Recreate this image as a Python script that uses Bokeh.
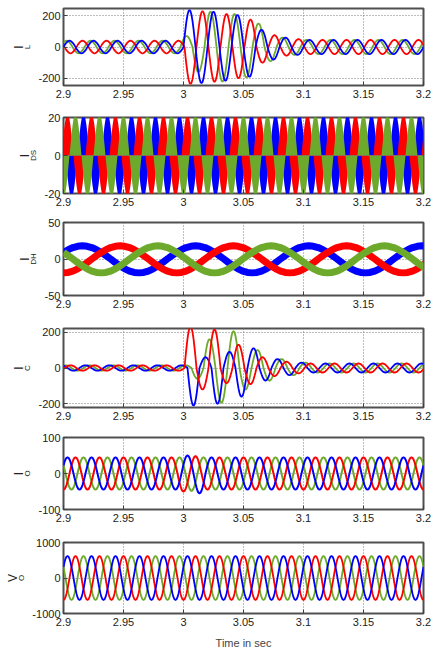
import numpy as np
from bokeh.plotting import figure
from bokeh.layouts import column
from bokeh.models import FixedTicker, Title, Range1d
from bokeh.embed import file_html
from bokeh.resources import INLINE

# ---------------- data ----------------
T0, T1 = 2.9, 3.2
x_ticks = [2.9, 2.95, 3.0, 3.05, 3.1, 3.15, 3.2]
x_tick_labels = ["2.9", "2.95", "3", "3.05", "3.1", "3.15", "3.2"]

# one cycle of the waveform shape, 24 samples per cycle
cycle_shape = [0.0, 0.26, 0.5, 0.71, 0.87, 0.97, 1.0, 0.97, 0.87, 0.71, 0.5, 0.26,
               0.0, -0.26, -0.5, -0.71, -0.87, -0.97, -1.0, -0.97, -0.87, -0.71, -0.5, -0.26]

f_grid = 50.0      # Hz
f_dh = 10.6        # Hz (I_DH panel)

# peak value of every half cycle
iL_blue = [40, 40, 40, 40, 40, 40, 40, 40, 40, 40, 235, 230, 225, 215, 205, 190, 110, 80, 60, 50,
           45, 45, 45, 45, 45, 45, 45, 45, 45, 45, 45, 45, 45]
iL_red = [40, 40, 40, 40, 40, 40, 40, 40, 40, 40, 40, 235, 228, 222, 210, 200, 175, 100, 75, 55,
          50, 45, 45, 45, 45, 45, 45, 45, 45, 45, 45, 45, 45]
iL_green = [40, 40, 40, 40, 40, 40, 40, 40, 40, 40, 70, 160, 225, 220, 210, 195, 150, 90, 60, 50,
            45, 45, 45, 45, 45, 45, 45, 45, 45, 45, 45, 45, 45]

iDS_blue = [22, 22, 22, 22, 22, 22, 22, 22, 22, 22, 22, 22, 22, 22, 22, 22, 22, 22, 22, 22,
            22, 22, 22, 22, 22, 22, 22, 22, 22, 22, 22, 22, 22]
iDS_red = [22, 22, 22, 22, 22, 22, 22, 22, 22, 22, 22, 22, 22, 22, 22, 22, 22, 22, 22, 22,
           22, 22, 22, 22, 22, 22, 22, 22, 22, 22, 22, 22, 22]
iDS_green = [22, 22, 22, 22, 22, 22, 22, 22, 22, 22, 22, 22, 22, 22, 22, 22, 22, 22, 22, 22,
             22, 22, 22, 22, 22, 22, 22, 22, 22, 22, 22, 22, 22]

iDH_blue = [18, 19, 18, 19, 18, 19, 18, 19, 18, 19]
iDH_red = [18, 19, 18, 19, 18, 19, 18, 19, 18, 19]
iDH_green = [18, 19, 18, 19, 18, 19, 18, 19, 18, 19]

iC_blue = [15, 15, 15, 15, 15, 15, 15, 15, 15, 15, 15, 210, 60, 200, 90, 160, 110, 70, 50, 40,
           30, 25, 25, 25, 25, 25, 25, 25, 25, 25, 25, 25, 25]
iC_red = [15, 15, 15, 15, 15, 15, 15, 15, 15, 15, 15, 15, 230, 120, 215, 85, 130, 90, 60, 45,
          35, 30, 25, 25, 25, 25, 25, 25, 25, 25, 25, 25, 25]
iC_green = [15, 15, 15, 15, 15, 15, 15, 15, 15, 15, 15, 60, 160, 194, 205, 120, 100, 70, 50, 40,
            30, 25, 25, 25, 25, 25, 25, 25, 25, 25, 25, 25, 25]

iO_blue = [45, 45, 45, 45, 45, 45, 45, 45, 45, 45, 50, 55, 45, 45, 45, 45, 45, 45, 45, 45,
           45, 45, 45, 45, 45, 45, 45, 45, 45, 45, 45, 45, 45]
iO_red = [45, 45, 45, 45, 45, 45, 45, 45, 45, 45, 45, 50, 48, 45, 45, 45, 45, 45, 45, 45,
          45, 45, 45, 45, 45, 45, 45, 45, 45, 45, 45, 45, 45]
iO_green = [45, 45, 45, 45, 45, 45, 45, 45, 45, 45, 45, 48, 45, 45, 45, 45, 45, 45, 45, 45,
            45, 45, 45, 45, 45, 45, 45, 45, 45, 45, 45, 45, 45]

vO_blue = [620, 620, 620, 620, 620, 620, 620, 620, 620, 620, 620, 620, 620, 620, 620, 620, 620,
           620, 620, 620, 620, 620, 620, 620, 620, 620, 620, 620, 620, 620, 620, 620, 620]
vO_red = [620, 620, 620, 620, 620, 620, 620, 620, 620, 620, 620, 620, 620, 620, 620, 620, 620,
          620, 620, 620, 620, 620, 620, 620, 620, 620, 620, 620, 620, 620, 620, 620, 620]
vO_green = [620, 620, 620, 620, 620, 620, 620, 620, 620, 620, 620, 620, 620, 620, 620, 620, 620,
            620, 620, 620, 620, 620, 620, 620, 620, 620, 620, 620, 620, 620, 620, 620, 620]

# phase of each trace (in 1/24 of a cycle)
iL_phase = {"blue": 0, "red": 11, "green": 3}
iDS_phase = {"blue": 10, "red": 2, "green": 18}
iDH_phase = {"blue": 2, "red": 18, "green": 10}
iC_phase = {"blue": 8, "red": 23, "green": 4}
iO_phase = {"blue": 2, "red": 18, "green": 10}
vO_phase = {"blue": 2, "red": 18, "green": 10}

COLORS = {"blue": "#0000FF", "red": "#FF0000", "green": "#6DAA2C"}
FONT = "Liberation Sans"


def wave(amps, off, f):
    dt = 1.0 / (24 * f)
    n = int(np.ceil((T1 - T0) / dt - 1e-9)) + 1
    k = np.arange(n)
    idx = k + off
    a = np.array(amps, dtype=float)[np.minimum(idx // 12, len(amps) - 1)]
    s = np.array(cycle_shape)[idx % 24]
    return T0 + k * dt, a * s


def make_fig(frame_h, top, bottom, yr, yticks):
    p = figure(frame_width=360, frame_height=frame_h, min_border_left=63, min_border_right=8,
               min_border_top=top, min_border_bottom=bottom,
               x_range=Range1d(T0, T1), y_range=Range1d(*yr),
               output_backend="svg", toolbar_location=None)
    p.background_fill_color = "white"
    p.border_fill_color = "white"
    p.outline_line_color = "#505050"
    p.outline_line_width = 2
    for ax in (p.xaxis[0], p.yaxis[0]):
        ax.axis_line_color = None
        ax.major_tick_in = 4
        ax.major_tick_out = 0
        ax.major_tick_line_color = "#404040"
        ax.minor_tick_line_color = None
        ax.major_label_text_font = FONT
        ax.major_label_text_font_size = "11px"
        ax.major_label_text_color = "#222222"
        ax.major_label_standoff = 4
    p.xaxis.ticker = FixedTicker(ticks=x_ticks)
    p.xaxis.major_label_overrides = dict(zip(x_ticks, x_tick_labels))
    p.yaxis.ticker = FixedTicker(ticks=yticks)
    p.yaxis.major_label_overrides = {t: str(t) for t in yticks}
    p.yaxis.major_label_standoff = 3
    for g in (p.xgrid[0], p.ygrid[0]):
        g.grid_line_color = "#7a7a7a"
        g.grid_line_dash = "1 2"
        g.grid_line_width = 1
    return p


def add_ylabel(p, main, sub):
    mw = 8 if main == "V" else 4
    sw = 5.5 * len(sub)
    p.add_layout(Title(text=sub, align="center", offset=mw / 2 + 7, standoff=8,
                       text_font=FONT, text_font_size="8px", text_font_style="normal",
                       text_color="#222222"), "left")
    p.add_layout(Title(text=main, align="center", offset=-sw / 2 - 1, standoff=-19,
                       text_font=FONT, text_font_size="12px", text_font_style="normal",
                       text_color="#222222"), "left")


def draw_lines(p, amps, phase, f, order, width):
    for c in order:
        t, v = wave(amps[c], phase[c], f)
        p.line(t, v, line_color=COLORS[c], line_width=width)


figs = []

# Panel 1: I_L
p1 = make_fig(77, 8, 26, (-245, 245), [-200, 0, 200])
draw_lines(p1, {"blue": iL_blue, "red": iL_red, "green": iL_green}, iL_phase, f_grid,
           ["green", "red", "blue"], 1.8)
add_ylabel(p1, "I", "L")
figs.append(p1)

# Panel 2: I_DS
p2 = make_fig(76, 6, 24, (-20, 20), [-20, 0, 20])
for c, amps in (("blue", iDS_blue), ("red", iDS_red), ("green", iDS_green)):
    t, v = wave(amps, iDS_phase[c], f_grid)
    p2.varea(x=t, y1=np.zeros_like(v), y2=v, fill_color=COLORS[c])
add_ylabel(p2, "I", "DS")
figs.append(p2)

# Panel 3: I_DH
p3 = make_fig(73, 5, 27, (-50, 50), [-50, 0, 50])
draw_lines(p3, {"blue": iDH_blue, "red": iDH_red, "green": iDH_green}, iDH_phase, f_dh,
           ["blue", "red", "green"], 7)
add_ylabel(p3, "I", "DH")
figs.append(p3)

# Panel 4: I_C
p4 = make_fig(79, 6, 24, (-220, 220), [-200, 0, 200])
draw_lines(p4, {"blue": iC_blue, "red": iC_red, "green": iC_green}, iC_phase, f_grid,
           ["green", "blue", "red"], 1.8)
add_ylabel(p4, "I", "C")
figs.append(p4)

# Panel 5: I_O
p5 = make_fig(72, 6, 27, (-100, 100), [-100, 0, 100])
draw_lines(p5, {"blue": iO_blue, "red": iO_red, "green": iO_green}, iO_phase, f_grid,
           ["green", "red", "blue"], 2)
add_ylabel(p5, "I", "O")
figs.append(p5)

# Panel 6: V_O
p6 = make_fig(71, 6, 44, (-1000, 1000), [-1000, 0, 1000])
draw_lines(p6, {"blue": vO_blue, "red": vO_red, "green": vO_green}, vO_phase, f_grid,
           ["green", "red", "blue"], 1.8)
add_ylabel(p6, "V", "O")
p6.xaxis.axis_label = "Time in sec"
p6.xaxis.axis_label_text_font = FONT
p6.xaxis.axis_label_text_font_size = "11px"
p6.xaxis.axis_label_text_font_style = "normal"
p6.xaxis.axis_label_standoff = 8
figs.append(p6)

layout = column(*figs, spacing=0)
open("out.html", "w").write(file_html(layout, INLINE))
